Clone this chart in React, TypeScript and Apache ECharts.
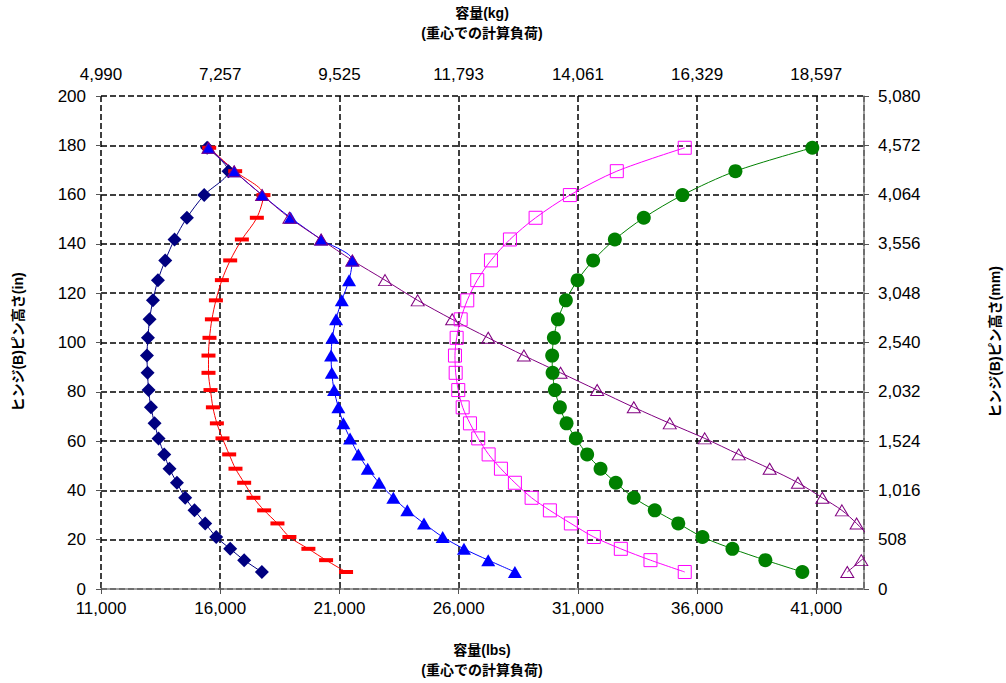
import React, { useEffect, useRef } from 'react';
import * as echarts from 'echarts';

// Hinge (B) pin height, inches (shared by every series)
const heightIn = [179, 169.5, 159.8, 150.6, 141.8, 133.3, 125.3, 117.1, 109.4, 101.9, 94.7, 87.7, 80.7, 73.7, 67.2, 61.1, 54.6, 48.8, 43.1, 37.0, 31.9, 26.6, 21.1, 16.3, 11.7, 6.9];

// Capacity (lbs) for each series
const navyLbs = [15450, 16347, 15328, 14603, 14084, 13694, 13388, 13179, 13036, 12969, 12927, 12953, 12994, 13095, 13246, 13413, 13652, 13874, 14184, 14532, 14922, 15370, 15831, 16418, 17004, 17746];
const redLbs = [15538, 16627, 17813, 17536, 16908, 16418, 16070, 15819, 15651, 15550, 15508, 15508, 15592, 15693, 15860, 16095, 16376, 16640, 17004, 17394, 17842, 18400, 18902, 19698, 20440, 21278];
const blueLbs = [15508, 16585, 17758, 18953, 20231, 21542, 21404, 21098, 20859, 20704, 20650, 20679, 20775, 20955, 21165, 21446, 21793, 22187, 22661, 23260, 23847, 24546, 25330, 26222, 27240, 28359];
const purpleLbs = [15508, 16585, 17758, 18902, 20231, 21542, 22912, 24282, 25728, 27240, 28736, 30274, 31808, 33345, 34854, 36320, 37745, 39044, 40229, 41252, 42073, 42689, 43200, 43400, 42886, 42299];
const magentaLbs = [35482, 32633, 30664, 29227, 28150, 27354, 26780, 26361, 26084, 25916, 25845, 25875, 25983, 26168, 26474, 26821, 27257, 27773, 28359, 29059, 29826, 30706, 31669, 32801, 34045, 35482];
const greenLbs = [40833, 37607, 35386, 33764, 32549, 31640, 30986, 30496, 30161, 29993, 29922, 29939, 30035, 30245, 30525, 30915, 31389, 31950, 32591, 33345, 34225, 35210, 36224, 37481, 38864, 40414];

// Tick labels
const lbsTickLabels = ['11,000', '16,000', '21,000', '26,000', '31,000', '36,000', '41,000'];
const kgTickLabels = ['4,990', '7,257', '9,525', '11,793', '14,061', '16,329', '18,597'];
const inTickLabels = ['0', '20', '40', '60', '80', '100', '120', '140', '160', '180', '200'];
const mmTickLabels = ['0', '508', '1,016', '1,524', '2,032', '2,540', '3,048', '3,556', '4,064', '4,572', '5,080'];

const X_MIN = 11000;
const X_MAX = 43000;
const X_STEP = 5000;
const Y_MIN = 0;
const Y_MAX = 200;
const Y_STEP = 20;

const FONT = '"Liberation Sans", Arial, sans-serif';
const TITLE_FONT = '"Liberation Sans", "Noto Sans CJK JP", sans-serif';

function pick(labels: string[], v: number, min: number, step: number) {
  const i = Math.round((v - min) / step);
  return i >= 0 && i < labels.length && Math.abs(v - (min + i * step)) < 1e-6 ? labels[i] : '';
}

export default function App() {
  const ref = useRef<HTMLDivElement>(null);

  useEffect(() => {
    if (!ref.current) return;
    const chart = echarts.init(ref.current, undefined, { renderer: 'svg' });

    const labelStyle = { color: '#000', fontSize: 17, fontFamily: FONT };
    const tick = { show: true, length: 5, lineStyle: { color: '#555', width: 1 } };

    const mk = (name: string, xs: number[], opts: any) => ({
      name,
      type: 'line',
      xAxisIndex: 0,
      yAxisIndex: 0,
      data: xs.map((x, i) => [x, heightIn[i]]),
      smooth: 0.3,
      clip: true,
      ...opts,
    });

    chart.setOption({
      animation: false,
      backgroundColor: '#fff',
      grid: { left: 101, right: 142, top: 96, bottom: 94, containLabel: false },
      xAxis: [
        {
          type: 'value', position: 'bottom', min: X_MIN, max: X_MAX, interval: X_STEP,
          axisLine: { show: true, lineStyle: { color: '#808080', width: 1.5 } },
          axisTick: tick,
          axisLabel: { ...labelStyle, margin: 11, showMaxLabel: false, formatter: (v: number) => pick(lbsTickLabels, v, X_MIN, X_STEP) },
          splitLine: { show: true, lineStyle: { color: '#000', type: [6, 3], width: 1.5 } },
        },
        {
          type: 'value', position: 'top', min: X_MIN, max: X_MAX, interval: X_STEP,
          axisLine: { show: false },
          axisTick: tick,
          axisLabel: { ...labelStyle, margin: 13, showMaxLabel: false, formatter: (v: number) => pick(kgTickLabels, v, X_MIN, X_STEP) },
          splitLine: { show: false },
        },
      ],
      yAxis: [
        {
          type: 'value', position: 'left', min: Y_MIN, max: Y_MAX, interval: Y_STEP,
          axisLine: { show: false },
          axisTick: tick,
          axisLabel: { ...labelStyle, margin: 15, formatter: (v: number) => pick(inTickLabels, v, Y_MIN, Y_STEP) },
          splitLine: { show: true, lineStyle: { color: '#000', type: [6, 3], width: 1.5 } },
        },
        {
          type: 'value', position: 'right', min: Y_MIN, max: Y_MAX, interval: Y_STEP,
          axisLine: { show: true, lineStyle: { color: '#808080', width: 1.5 } },
          axisTick: tick,
          axisLabel: { ...labelStyle, margin: 14, formatter: (v: number) => pick(mmTickLabels, v, Y_MIN, Y_STEP) },
          splitLine: { show: false },
        },
      ],
      series: [
        mk('navy', navyLbs, {
          symbol: 'diamond', symbolSize: 14,
          itemStyle: { color: '#000080' },
          lineStyle: { color: '#000080', width: 1 },
        }),
        mk('red', redLbs, {
          symbol: 'rect', symbolSize: [14, 4],
          itemStyle: { color: '#FF0000' },
          lineStyle: { color: '#FF0000', width: 1 },
        }),
        mk('blue', blueLbs, {
          symbol: 'triangle', symbolSize: [14, 12],
          itemStyle: { color: '#0000FF' },
          lineStyle: { color: '#0000FF', width: 1 },
        }),
        mk('purple', purpleLbs, {
          symbol: 'triangle', symbolSize: [13, 11],
          itemStyle: { color: 'rgba(255,255,255,0)', borderColor: '#800080', borderWidth: 1 },
          lineStyle: { color: '#800080', width: 1 },
        }),
        mk('magenta', magentaLbs, {
          symbol: 'rect', symbolSize: 13,
          itemStyle: { color: 'rgba(255,255,255,0)', borderColor: '#FF00FF', borderWidth: 1 },
          lineStyle: { color: '#FF00FF', width: 1 },
        }),
        mk('green', greenLbs, {
          symbol: 'circle', symbolSize: 14,
          itemStyle: { color: '#008000' },
          lineStyle: { color: '#008000', width: 1 },
        }),
      ],
      graphic: [
        {
          type: 'text',
          style: { text: '容量(kg)\n(重心での計算負荷)', align: 'center', fill: '#000', font: `bold 14px ${TITLE_FONT}`, lineHeight: 20 },
          x: 482, y: 3,
        },
        {
          type: 'text',
          style: { text: '容量(lbs)\n(重心での計算負荷)', align: 'center', fill: '#000', font: `bold 14px ${TITLE_FONT}`, lineHeight: 20 },
          x: 482, y: 640,
        },
        {
          type: 'text',
          style: { text: 'ヒンジ(B)ピン高さ(in)', align: 'center', verticalAlign: 'middle', fill: '#000', font: `bold 14px ${TITLE_FONT}` },
          x: 18, y: 342, rotation: Math.PI / 2,
        },
        {
          type: 'text',
          style: { text: 'ヒンジ(B)ピン高さ(mm)', align: 'center', verticalAlign: 'middle', fill: '#000', font: `bold 14px ${TITLE_FONT}` },
          x: 995, y: 342, rotation: Math.PI / 2,
        },
      ],
    });

    return () => chart.dispose();
  }, []);

  return <div ref={ref} style={{ position: 'fixed', left: 0, top: 0, width: 1006, height: 683 }} />;
}
